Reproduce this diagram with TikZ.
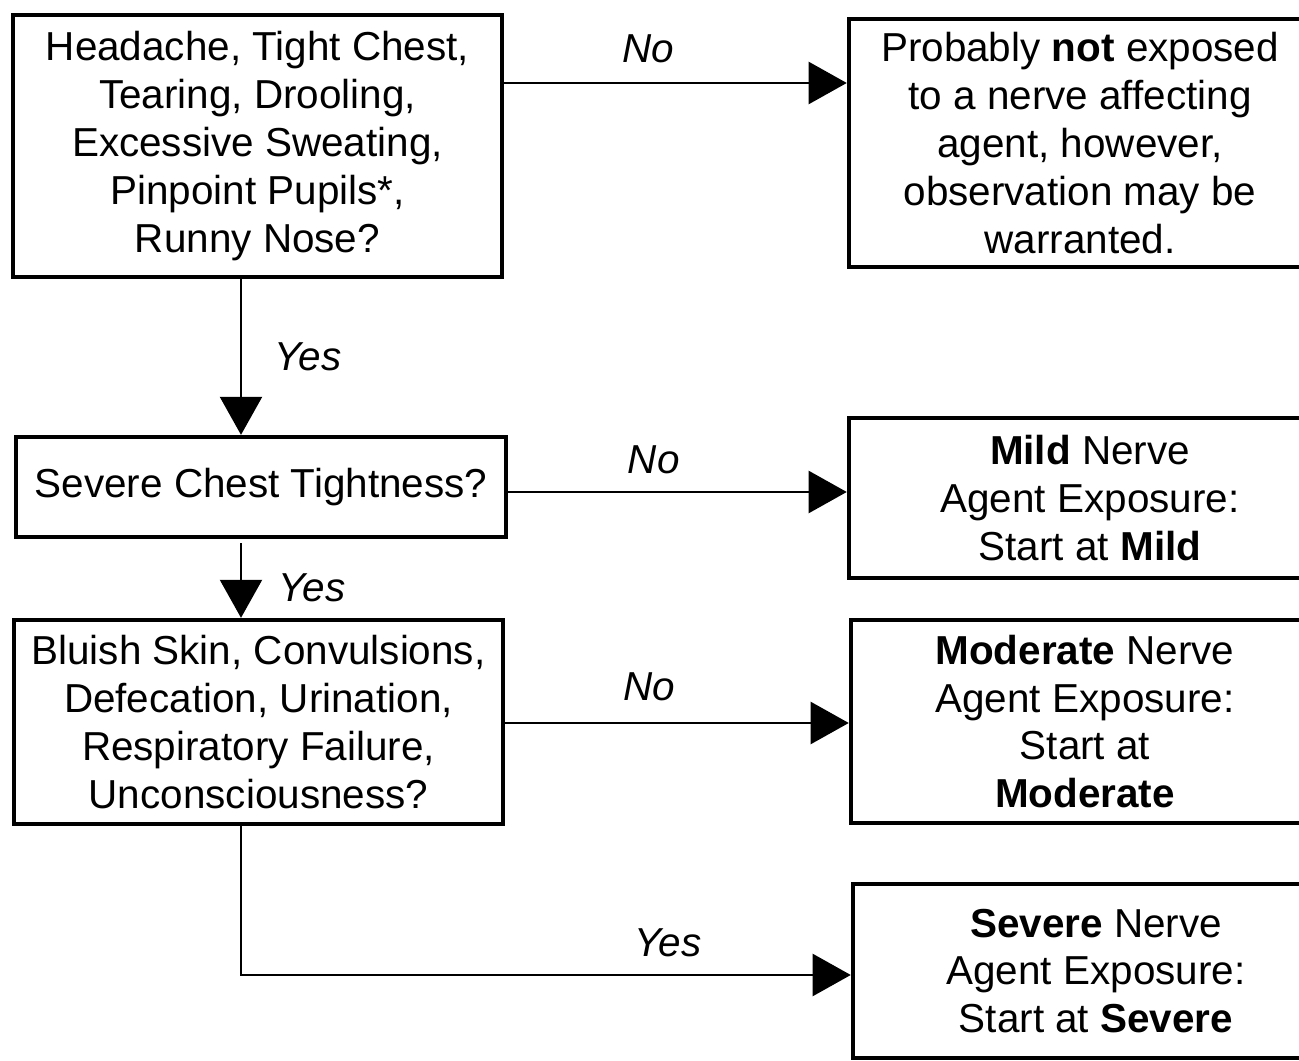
\documentclass[tikz,border=0pt]{standalone}
\usepackage{fontspec}
\setmainfont{Liberation Sans}
\usetikzlibrary{arrows.meta, positioning}
\tikzset {
    >={Triangle[length=0.38cm, width=0.42cm]},
    box/.style={draw, line width=1.2pt, align=center, inner sep=0pt,
        font=\fontsize{11.5}{13.6}\selectfont},
    link/.style={->, line width=0.6pt},
    answer/.style={font=\fontsize{11.5}{13.6}\selectfont\itshape, inner sep=0pt}
}

\begin{document}
\begin{tikzpicture}[x=0.01cm, y=-0.01cm]
    \useasboundingbox (0,0) rectangle (1299,1061);

    % questions on the left
    \node[box, minimum width=4.89cm, minimum height=2.62cm] (symptoms) at (257.5,146)
        {Headache, Tight Chest,\\ Tearing, Drooling,\\ Excessive Sweating,\\ Pinpoint Pupils*,\\ Runny Nose?};
    \node[box, minimum width=4.90cm, minimum height=1.00cm] (chest) at (261,487)
        {Severe Chest Tightness?};
    \node[box, minimum width=4.89cm, minimum height=2.04cm] (signs) at (258.5,722)
        {Bluish Skin, Convulsions,\\ Defecation, Urination,\\ Respiratory Failure,\\ Unconsciousness?};

    % outcomes on the right
    \node[box, minimum width=4.62cm, minimum height=2.48cm] (none) at (1080,143)
        {Probably \textbf{not} exposed\\ to a nerve affecting\\ agent, however,\\ observation may be\\ warranted.};
    \node[box, minimum width=4.82cm, minimum height=1.60cm] (mild) at (1090,498)
        {\textbf{Mild} Nerve\\ Agent Exposure:\\ Start at \textbf{Mild}};
    \node[box, minimum width=4.68cm, minimum height=2.03cm] (moderate) at (1085,721.5)
        {\textbf{Moderate} Nerve\\ Agent Exposure:\\ Start at\\ \textbf{Moderate}};
    \node[box, minimum width=4.86cm, minimum height=1.74cm] (severe) at (1096,971)
        {\textbf{Severe} Nerve\\ Agent Exposure:\\ Start at \textbf{Severe}};

    % where the connectors run
    \coordinate (col) at (241,0);
    \coordinate (row1) at (0,83);
    \coordinate (row2) at (0,492);
    \coordinate (row3) at (0,723);
    \coordinate (row4) at (0,975);

    \draw[link] (symptoms.east |- row1) -- node[answer, pos=0.42, above=0.19cm] {No} (none.west |- row1);
    \draw[link] (symptoms.south -| col) -- node[answer, pos=0.5, right=0.32cm] {Yes} (chest.north -| col);
    \draw[link] ([yshift=-0.04cm]chest.south -| col) -- node[answer, pos=0.6, right=0.36cm] {Yes} (signs.north -| col);
    \draw[link] (chest.east |- row2) -- node[answer, pos=0.43, above=0.17cm] {No} (mild.west |- row2);
    \draw[link] (signs.east |- row3) -- node[answer, pos=0.42, above=0.21cm] {No} (moderate.west |- row3);
    \draw[link] (signs.south -| col) |- node[answer, pos=0.85, above=0.17cm] {Yes} (severe.west |- row4);
\end{tikzpicture}
\end{document}
